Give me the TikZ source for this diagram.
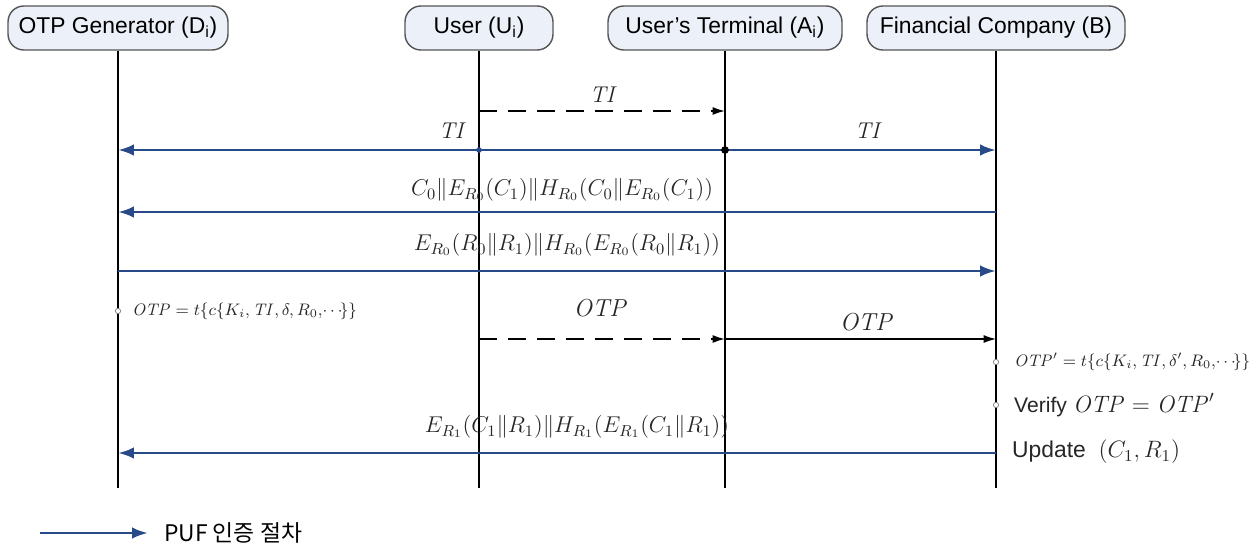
\documentclass[tikz,border=0pt]{standalone}
\usepackage{fix-cm}
\usepackage{amsmath}
\usepackage[no-math]{fontspec}
\setsansfont{Liberation Sans}
\newfontfamily\krfont{Noto Sans CJK KR}
\usetikzlibrary{arrows.meta}
\definecolor{pufblue}{RGB}{40,74,136}
\definecolor{boxfill}{RGB}{236,240,248}
\definecolor{boxline}{RGB}{85,85,85}

\begin{document}
\begin{tikzpicture}[x=0.02cm,y=-0.02cm]
        \tikzset{party/.style = {shape=rectangle,rounded corners=9pt,draw=boxline,fill=boxfill,line width=0.8pt,minimum height=0.88cm,inner sep=0pt,font=\sffamily\fontsize{13}{15}\selectfont}}
        \tikzset{life/.style = {line width=1.2pt}}
        \tikzset{puf/.style = {->,> = {Latex[length=9pt,width=6.5pt]},draw=pufblue,line width=1.6pt}}
        \tikzset{plain/.style = {->,> = {Latex[length=7pt,width=4.5pt]},line width=0.7pt}}
        \tikzset{dashmsg/.style = {->,> = {Latex[length=7pt,width=4.5pt]},line width=0.9pt,dash pattern=on 10pt off 6.5pt}}
        \tikzset{lbl/.style = {font=\fontsize{13}{16}\selectfont,text=black!85}}
        \tikzset{note/.style = {anchor=west,font=\fontsize{9.5}{12}\selectfont,text=black!85}}
        \useasboundingbox (0,0) rectangle (1257,551);
        % parties
        \node[party,minimum width=4.4cm] (D) at (118,28) {OTP Generator (D\textsubscript{i})};
        \node[party,minimum width=2.96cm] (U) at (479,28) {User (U\textsubscript{i})};
        \node[party,minimum width=4.68cm] (A) at (725,28) {User's Terminal (A\textsubscript{i})};
        \node[party,minimum width=5.16cm] (B) at (996,28) {Financial Company (B)};
        % lifelines
        \coordinate (bottom) at (0,488);
        \draw[life] (D) -- (D |- bottom);
        \draw[life] (U) -- (U |- bottom);
        \draw[life] (A) -- (A |- bottom);
        \draw[life] (B) -- (B |- bottom);
        % message rows
        \coordinate (r1) at (0,111);
        \coordinate (r2) at (0,150);
        \coordinate (r3) at (0,212);
        \coordinate (r4) at (0,271);
        \coordinate (r5) at (0,339);
        \coordinate (r6) at (0,453);
        \coordinate (otpD) at (0,311);
        \coordinate (otpB) at (0,362);
        \coordinate (verB) at (0,405);
        % messages
        \draw[dashmsg] (U |- r1) -- (A |- r1);
        \draw[puf] (A |- r2) -- (D |- r2);
        \draw[puf] (A |- r2) -- (B |- r2);
        \draw[puf] (B |- r3) -- (D |- r3);
        \draw[puf] (D |- r4) -- (B |- r4);
        \draw[dashmsg] (U |- r5) -- (A |- r5);
        \draw[plain] (A |- r5) -- (B |- r5);
        \draw[puf] (B |- r6) -- (D |- r6);
        \fill (A |- r2) circle (2.2pt);
        \fill[pufblue] (U |- r2) circle (1.6pt);
        \draw[black!50,fill=white] (D |- otpD) circle (1.5pt);
        \draw[black!50,fill=white] (B |- otpB) circle (1.5pt);
        \draw[black!50,fill=white] (B |- verB) circle (1.5pt);
        % labels
        \node[lbl] (tiUA) at (604,95) {$\mathit{TI}$};
        \node[lbl] (tiD) at (453,131) {$\mathit{TI}$};
        \node[lbl] (tiB) at (869,131) {$\mathit{TI}$};
        \node[lbl] (m3) at (562,190) {$C_0\|E_{R_0}(C_1)\|H_{R_0}(C_0\|E_{R_0}(C_1))$};
        \node[lbl] (m4) at (567,245) {$E_{R_0}(R_0\|R_1)\|H_{R_0}(E_{R_0}(R_0\|R_1))$};
        \node[lbl,font=\fontsize{14}{16}\selectfont] (otpUA) at (601,308) {$\mathit{OTP}$};
        \node[lbl,font=\fontsize{14}{16}\selectfont] (otpAB) at (867,322) {$\mathit{OTP}$};
        \node[lbl] (m6) at (577,427) {$E_{R_1}(C_1\|R_1)\|H_{R_1}(E_{R_1}(C_1\|R_1))$};
        \node[note] (genD) at (126,311) {$\mathit{OTP}=t\{c\{K_i,\mathit{TI},\delta,R_0,\!\cdots\!\}\}$};
        \node[note] (genB) at (1008,362) {$\mathit{OTP}'=t\{c\{K_i,\mathit{TI},\delta',R_0,\!\cdots\!\}\}$};
        \node[note,font=\sffamily\fontsize{12}{14}\selectfont] (verify) at (1008,405) {Verify \fontsize{13.5}{16}\selectfont$\mathit{OTP}=\mathit{OTP}'$};
        \node[note,font=\sffamily\fontsize{13}{15}\selectfont] (update) at (1006,452) {Update~~\fontsize{13.5}{16}\selectfont$(C_1,R_1)$};
        % legend
        \coordinate (legA) at (40,533);
        \coordinate (legB) at (148,533);
        \draw[puf] (legA) -- (legB);
        \node[anchor=west,font=\krfont\fontsize{13}{15}\selectfont] (legtxt) at (158,533) {PUF 인증 절차};
    \end{tikzpicture}
\end{document}
